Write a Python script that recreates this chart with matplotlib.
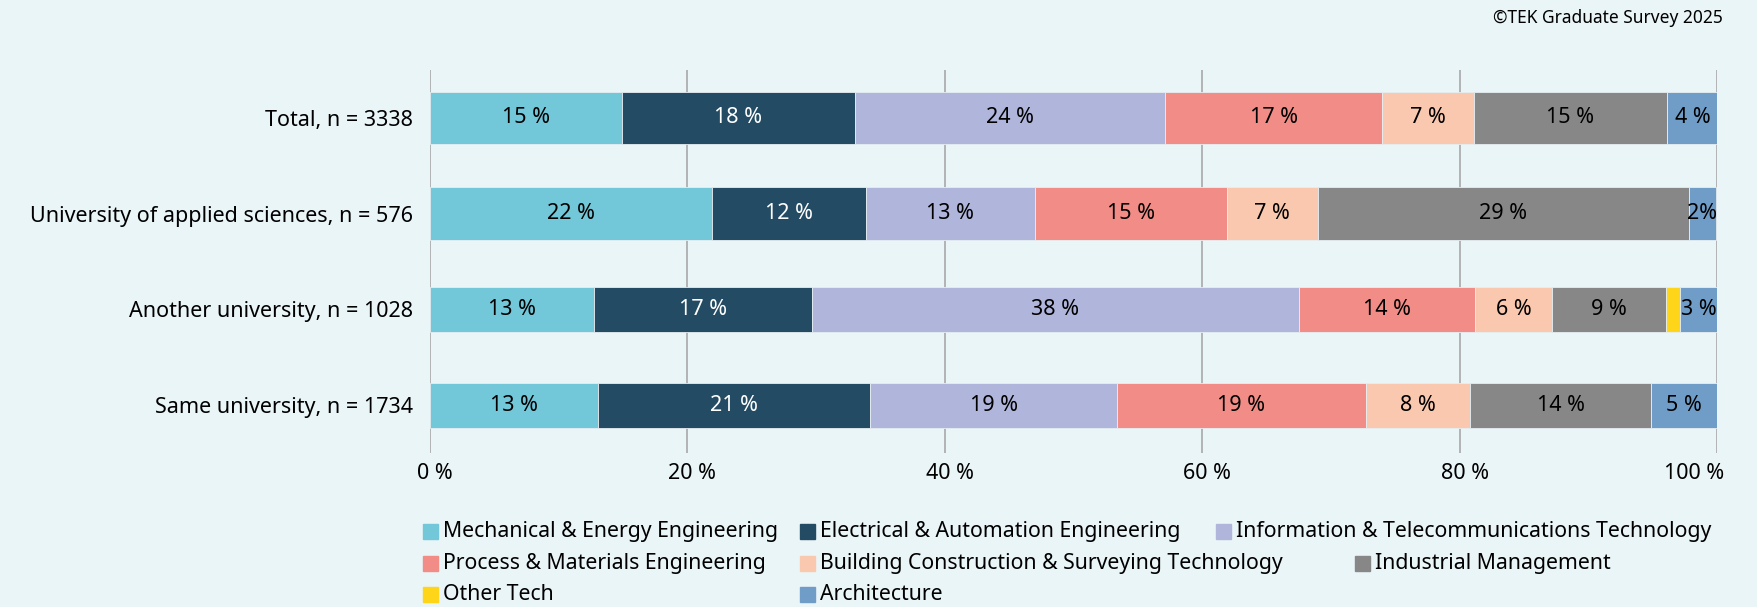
import matplotlib
matplotlib.use('Agg')
import matplotlib.pyplot as plt
import matplotlib.transforms as mtransforms
from matplotlib.patches import Rectangle

plt.rcParams['font.family'] = ['Noto Sans', 'DejaVu Sans']

groups = ['Total, n = 3338', 'University of applied sciences, n = 576',
          'Another university, n = 1028', 'Same university, n = 1734']

fields = ['Mechanical & Energy Engineering', 'Electrical & Automation Engineering',
          'Information & Telecommunications Technology', 'Process & Materials Engineering',
          'Building Construction & Surveying Technology', 'Industrial Management',
          'Other Tech', 'Architecture']

# percent per group, same order as groups
mechanical = [14.9, 21.9, 12.8, 13.1]
electrical = [18.1, 12.0, 16.9, 21.1]
information = [24.1, 13.1, 37.8, 19.2]
process = [16.9, 14.9, 13.7, 19.3]
building = [7.1, 7.1, 6.0, 8.1]
industrial = [15.0, 28.8, 8.8, 14.1]
other_tech = [0.0, 0.0, 1.1, 0.0]
architecture = [4.0, 2.1, 2.9, 5.1]

series = [mechanical, electrical, information, process, building, industrial, other_tech, architecture]
colors = ['#72C7D9', '#234B63', '#B0B5DB', '#F28C86', '#FAC8AE', '#878787', '#FFD51A', '#709DC8']
text_colors = ['black', 'white', 'black', 'black', 'black', 'black', 'black', 'black']

bg = '#EAF5F7'
W, H = 1758, 607

fig = plt.figure(figsize=(W / 100, H / 100), dpi=100, facecolor=bg)
ax = fig.add_axes([429.7 / W, 1 - 453 / H, (1717 - 429.7) / W, (453 - 70) / H])
ax.set_facecolor(bg)

bar_heights = [0.55, 0.55, 0.47, 0.47]
y = list(range(len(groups)))
left = [0.0] * len(groups)
for vals, col, tcol in zip(series, colors, text_colors):
    ax.barh(y, vals, left=left, height=bar_heights, color=col, edgecolor='#E6EEF2',
            linewidth=0.6, zorder=3)
    for i, v in enumerate(vals):
        if v >= 1.5:
            lab = f'{v:.0f}%' if v < 2.5 else f'{v:.0f} %'
            ax.text(left[i] + v / 2, i, lab, ha='center', va='center', color=tcol,
                    fontsize=15.5, zorder=4)
    left = [l + v for l, v in zip(left, vals)]

ax.set_xlim(0, 100)
ax.set_ylim(3.5, -0.5)
ax.set_xticks(range(0, 101, 20))
ax.set_xticklabels([f'{t} %' for t in range(0, 101, 20)], fontsize=15.5)
ax.set_yticks(y)
ax.set_yticklabels(groups, fontsize=15.5)
ax.tick_params(length=0, pad=12)
ax.tick_params(axis='x', pad=7)
ax.grid(axis='x', color='#A8A8A8', linewidth=1.2, zorder=0)
for s in ax.spines.values():
    s.set_visible(False)

# the last tick label is kept inside the plot width, as in the original
xlabels = ax.get_xticklabels()
for lbl in xlabels[:-1]:
    lbl.set_transform(lbl.get_transform() + mtransforms.ScaledTranslation(5 / 100, 0, fig.dpi_scale_trans))
xlabels[-1].set_ha('right')
xlabels[-1].set_transform(xlabels[-1].get_transform() + mtransforms.ScaledTranslation(7 / 100, 0, fig.dpi_scale_trans))

fig.text(1723 / W, 1 - 18 / H, '©TEK Graduate Survey 2025', ha='right', va='center', fontsize=12.5)

# legend, laid out in rows like the original
leg_rows = [
    [(0, 423), (1, 800), (2, 1216)],
    [(3, 423), (4, 800), (5, 1355)],
    [(6, 423), (7, 800)],
]
row_y = [531, 563, 594]
for items, yy in zip(leg_rows, row_y):
    for idx, xx in items:
        fig.add_artist(Rectangle((xx / W, 1 - (yy + 7.5) / H), 15 / W, 15 / H,
                                 transform=fig.transFigure, color=colors[idx]))
        fig.text((xx + 20) / W, 1 - yy / H, fields[idx], ha='left', va='center', fontsize=15.3)

fig.savefig('out.png', dpi=100, facecolor=bg)
